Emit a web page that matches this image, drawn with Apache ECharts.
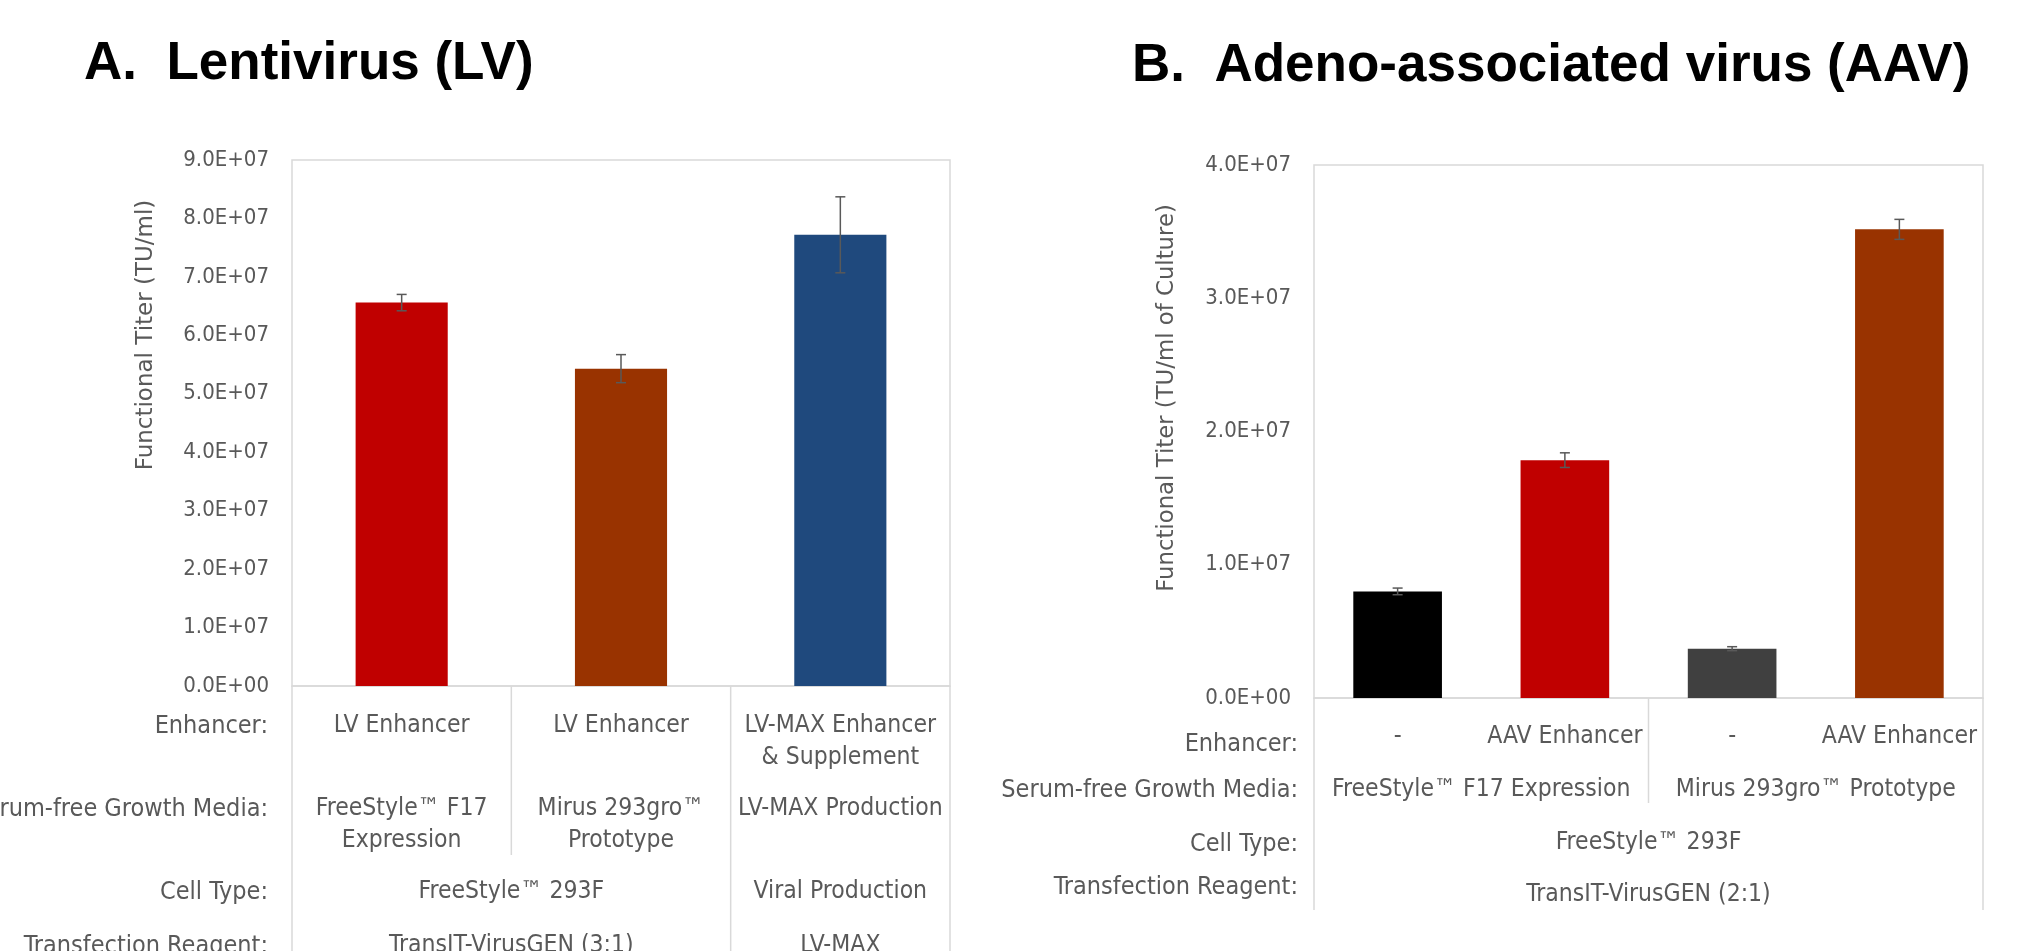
<!DOCTYPE html>
<html><head><meta charset="utf-8">
<script src="https://cdn.jsdelivr.net/npm/echarts@6/dist/echarts.min.js"></script>
<style>html,body{margin:0;padding:0;background:#fff;overflow:hidden}#c{width:2027px;height:951px}</style>
</head><body><div id="c"></div>
<script>
// ---------- DATA ----------
const lvCategories = ['LV Enhancer / F17', 'LV Enhancer / 293gro', 'LV-MAX'];
const lvValues = [6.56e7, 5.43e7, 7.72e7];
const lvErrors = [0.14e7, 0.24e7, 0.65e7];
const lvColors = ['#C00000', '#993300', '#1F497D'];
const lvYMax = 9e7;
const lvYInterval = 1e7;

const aavCategories = ['F17 -', 'F17 AAV Enhancer', '293gro -', '293gro AAV Enhancer'];
const aavValues = [8.0e6, 1.785e7, 3.7e6, 3.517e7];
const aavErrors = [0.25e6, 0.55e6, 0.15e6, 0.75e6];
const aavColors = ['#000000', '#C00000', '#404040', '#993300'];
const aavYMax = 4e7;
const aavYInterval = 1e7;

const titleA = 'A.  Lentivirus (LV)';
const titleB = 'B.  Adeno-associated virus (AAV)';
const yTitleA = 'Functional Titer (TU/ml)';
const yTitleB = 'Functional Titer (TU/ml of Culture)';

const rowLabels = ['Enhancer:', 'Serum-free Growth Media:', 'Cell Type:', 'Transfection Reagent:'];
// table cells: [text, fromCategory, toCategory]
const lvEnhancerRow = [['LV Enhancer', 0, 0], ['LV Enhancer', 1, 1], ['LV-MAX Enhancer\n& Supplement', 2, 2]];
const lvMediaRow = [['FreeStyle™ F17\nExpression', 0, 0], ['Mirus 293gro™\nPrototype', 1, 1], ['LV-MAX Production', 2, 2]];
const lvCellRow = [['FreeStyle™ 293F', 0, 1], ['Viral Production', 2, 2]];
const lvReagentRow = [['TransIT-VirusGEN (3:1)', 0, 1], ['LV-MAX', 2, 2]];

const aavEnhancerRow = [['-', 0, 0], ['AAV Enhancer', 1, 1], ['-', 2, 2], ['AAV Enhancer', 3, 3]];
const aavMediaRow = [['FreeStyle™ F17 Expression', 0, 1], ['Mirus 293gro™ Prototype', 2, 3]];
const aavCellRow = [['FreeStyle™ 293F', 0, 3]];
const aavReagentRow = [['TransIT-VirusGEN (2:1)', 0, 3]];

// ---------- STYLE ----------
const GRAY = '#595959';
const LINE = '#D9D9D9';
const NARROW = "'Liberation Sans Narrow', 'DejaVu Sans Condensed', sans-serif";
const TICK_SIZE = 22;
const CELL_SIZE = 24.5;
const LABEL_SIZE = 25;

function sci(v) {
  if (v === 0) return '0.0E+00';
  const e = Math.floor(Math.log10(v) + 1e-9);
  const m = v / Math.pow(10, e);
  return m.toFixed(1) + 'E+' + String(e).padStart(2, '0');
}

function errorSeries(idx, values, errors) {
  return {
    type: 'custom', xAxisIndex: idx, yAxisIndex: idx, z: 10,
    encode: { x: 0, y: [1, 2] },
    data: values.map((v, i) => [i, v - errors[i], v + errors[i]]),
    renderItem: function (params, api) {
      const x = api.value(0);
      const lo = api.coord([x, api.value(1)]);
      const hi = api.coord([x, api.value(2)]);
      const hw = 5;
      const st = { stroke: '#595959', lineWidth: 1.5 };
      return {
        type: 'group', children: [
          { type: 'line', shape: { x1: lo[0], y1: lo[1], x2: hi[0], y2: hi[1] }, style: st },
          { type: 'line', shape: { x1: lo[0] - hw, y1: lo[1], x2: lo[0] + hw, y2: lo[1] }, style: st },
          { type: 'line', shape: { x1: hi[0] - hw, y1: hi[1], x2: hi[0] + hw, y2: hi[1] }, style: st }
        ]
      };
    }
  };
}

function yAxisCfg(idx, max, interval) {
  return {
    type: 'value', gridIndex: idx, min: 0, max: max, interval: interval,
    splitLine: { show: false }, axisLine: { show: false }, axisTick: { show: false },
    axisLabel: { formatter: sci, color: GRAY, fontSize: TICK_SIZE, fontFamily: NARROW, margin: 23 }
  };
}
function xAxisCfg(idx, cats) {
  return {
    type: 'category', gridIndex: idx, data: cats,
    axisLine: { lineStyle: { color: LINE, width: 1.5 } },
    axisTick: { show: false }, axisLabel: { show: false }, splitLine: { show: false }
  };
}

const chart = echarts.init(document.getElementById('c'), null, { renderer: 'canvas' });
chart.setOption({
  animation: false,
  backgroundColor: '#ffffff',
  grid: [
    { left: 292, top: 160, width: 658, height: 526, show: true, borderColor: LINE, borderWidth: 1.5, backgroundColor: 'transparent' },
    { left: 1314, top: 165, width: 669, height: 533, show: true, borderColor: LINE, borderWidth: 1.5, backgroundColor: 'transparent' }
  ],
  xAxis: [xAxisCfg(0, lvCategories), xAxisCfg(1, aavCategories)],
  yAxis: [yAxisCfg(0, lvYMax, lvYInterval), yAxisCfg(1, aavYMax, aavYInterval)],
  series: [
    { type: 'bar', xAxisIndex: 0, yAxisIndex: 0, barWidth: '42%',
      data: lvValues.map((v, i) => ({ value: v, itemStyle: { color: lvColors[i] } })) },
    errorSeries(0, lvValues, lvErrors),
    { type: 'bar', xAxisIndex: 1, yAxisIndex: 1, barWidth: '53%',
      data: aavValues.map((v, i) => ({ value: v, itemStyle: { color: aavColors[i] } })) },
    errorSeries(1, aavValues, aavErrors)
  ]
});

// ---------- TABLE / TEXT GRAPHICS ----------
function cx(ax, i) { return chart.convertToPixel({ xAxisIndex: ax }, i); }
function band(ax) { return cx(ax, 1) - cx(ax, 0); }
function txt(text, x, y, opt) {
  opt = opt || {};
  return {
    type: 'text', x: x, y: y, rotation: opt.rotation || 0, z: 100,
    style: {
      text: text, fill: opt.fill || GRAY,
      fontSize: opt.size || CELL_SIZE, fontFamily: opt.family || NARROW, fontWeight: opt.weight || 'normal',
      align: opt.align || 'center', textAlign: opt.align || 'center',
      verticalAlign: opt.va || 'top', textVerticalAlign: opt.va || 'top',
      lineHeight: opt.lh || 32
    }
  };
}
function vline(x, y1, y2) {
  return { type: 'line', z: 5, shape: { x1: x, y1: y1, x2: x, y2: y2 }, style: { stroke: LINE, lineWidth: 1.5 } };
}
function rowCells(ax, row, firstLineY) {
  return row.map(c => txt(c[0], (cx(ax, c[1]) + cx(ax, c[2])) / 2, firstLineY - 16));
}

const g = [];
const BOLD = "'Liberation Sans', Arial, sans-serif";
// titles
g.push(txt(titleA, 84, 64, { align: 'left', va: 'middle', size: 53, family: BOLD, weight: 'bold', fill: '#000' }));
g.push(txt(titleB, 1132, 66, { align: 'left', va: 'middle', size: 53, family: BOLD, weight: 'bold', fill: '#000' }));
// y-axis titles
g.push(txt(yTitleA, 146, 335, { va: 'middle', size: 23, family: "'DejaVu Sans', sans-serif", rotation: Math.PI / 2 }));
g.push(txt(yTitleB, 1167, 398, { va: 'middle', size: 22.8, family: "'DejaVu Sans', sans-serif", rotation: Math.PI / 2 }));

// left table
const lvRowY = [726, 809, 892, 946];
rowLabels.forEach((t, i) => g.push(txt(t, 268, lvRowY[i] - 16, { align: 'right', size: LABEL_SIZE })));
[lvEnhancerRow, lvMediaRow, lvCellRow, lvReagentRow].forEach((row, i) => rowCells(0, row, lvRowY[i]).forEach(e => g.push(e)));
(function () {
  const bw = band(0), y0 = 686;
  g.push(vline(cx(0, 0) - bw / 2, y0, 951));
  g.push(vline(cx(0, 0) + bw / 2, y0, 855));
  g.push(vline(cx(0, 1) + bw / 2, y0, 951));
  g.push(vline(cx(0, 2) + bw / 2, y0, 951));
})();

// right table
const aavLabelY = [744, 790, 844, 887];
const aavCellY = [737, 790, 843, 895];
rowLabels.forEach((t, i) => g.push(txt(t, 1298, aavLabelY[i] - 16, { align: 'right', size: LABEL_SIZE })));
[aavEnhancerRow, aavMediaRow, aavCellRow, aavReagentRow].forEach((row, i) => rowCells(1, row, aavCellY[i]).forEach(e => g.push(e)));
(function () {
  const bw = band(1), y0 = 698;
  g.push(vline(cx(1, 0) - bw / 2, y0, 910));
  g.push(vline(cx(1, 1) + bw / 2, y0, 803));
  g.push(vline(cx(1, 3) + bw / 2, y0, 910));
})();

chart.setOption({ graphic: { elements: g } });
</script>
</body></html>
